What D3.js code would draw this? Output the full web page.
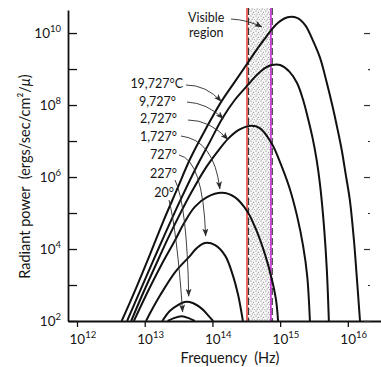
<!DOCTYPE html>
<html>
<head>
<meta charset="utf-8">
<script src="https://cdn.jsdelivr.net/npm/d3@7"></script>
<style>
  body { margin: 0; background: #fff; }
  svg text { font-family: Lato, "Open Sans", sans-serif; fill: #161616; }
</style>
</head>
<body>
<script>
// curves, each point is [log10 Hz, log10 power]
const c19727 = [[12.66,2.0],[12.86,2.86],[13.08,3.86],[13.27,4.75],[13.48,5.67],[13.67,6.5],[13.9,7.33],[14.12,8.06],[14.34,8.67],[14.51,9.14],[14.67,9.58],[14.78,9.86],[14.88,10.11],[15.0,10.33],[15.11,10.44],[15.25,10.42],[15.37,10.22],[15.48,9.81],[15.59,9.31],[15.68,8.69],[15.78,7.92],[15.85,7.31],[15.91,6.75],[15.97,6.06],[16.03,5.36],[16.09,4.25],[16.13,3.28],[16.18,2.0]];
const c9727 = [[12.74,2.0],[12.93,2.83],[13.11,3.61],[13.3,4.42],[13.52,5.33],[13.74,6.19],[13.96,6.97],[14.15,7.64],[14.33,8.14],[14.51,8.53],[14.67,8.86],[14.78,9.03],[14.88,9.11],[15.0,9.11],[15.14,8.92],[15.25,8.61],[15.34,8.14],[15.41,7.64],[15.48,7.08],[15.54,6.47],[15.59,5.78],[15.65,4.58],[15.69,3.42],[15.72,2.0]];
const c2727 = [[12.8,2.0],[12.97,2.75],[13.15,3.5],[13.34,4.28],[13.52,4.97],[13.7,5.61],[13.89,6.22],[14.07,6.69],[14.23,7.06],[14.39,7.31],[14.55,7.42],[14.7,7.36],[14.88,6.92],[15.01,6.36],[15.14,5.69],[15.25,4.92],[15.34,4.08],[15.4,3.25],[15.44,2.0]];
const c1727 = [[12.84,2.0],[13.0,2.64],[13.23,3.5],[13.45,4.25],[13.59,4.75],[13.74,5.17],[13.92,5.44],[14.14,5.56],[14.33,5.44],[14.52,5.03],[14.66,4.47],[14.78,3.83],[14.88,3.14],[14.94,2.58],[14.97,2.0]];
const c727 = [[13.02,2.0],[13.08,2.22],[13.23,2.72],[13.45,3.36],[13.67,3.81],[13.77,4.03],[13.89,4.17],[14.04,4.11],[14.19,3.81],[14.3,3.28],[14.38,2.72],[14.45,2.0]];
const c227 = [[13.26,2.0],[13.37,2.28],[13.49,2.44],[13.59,2.53],[13.71,2.5],[13.85,2.33],[13.93,2.17],[14.01,2.0]];
const c20 = [[13.34,2.0],[13.43,2.08],[13.55,2.13],[13.65,2.08],[13.74,2.0]];

const curves = [c19727, c9727, c2727, c1727, c727, c227, c20];
const tempLabels = ['19,727°C', '9,727°', '2,727°', '1,727°', '727°', '227°', '20°'];
// where each label's arrow lands, [log10 Hz, log10 power]
const arrowTargets = [[14.13,8.1],[14.16,7.62],[14.23,7.04],[14.11,5.67],[13.90,4.36],[13.65,2.69],[13.56,2.25]];

const visibleBand = [3.24e14, 7.3e14];
const xTicks = [1e12, 1e13, 1e14, 1e15, 1e16];
const yTicks = [1e2, 1e3, 1e4, 1e5, 1e6, 1e7, 1e8, 1e9, 1e10];

const width = 381, height = 367;
const margin = {top: 10, right: 0, bottom: 46, left: 68};
const plotBottom = height - margin.bottom;

const svg = d3.select('body').append('svg').attr('width', width).attr('height', height);

const x = d3.scaleLog().domain([10 ** 11.867, 10 ** 16.49]).range([margin.left, width - margin.right]);
const y = d3.scaleLog().domain([1e2, 10 ** 10.64]).range([plotBottom, margin.top]);

const defs = svg.append('defs');
const pat = defs.append('pattern').attr('id', 'dots')
  .attr('width', 5).attr('height', 5).attr('patternUnits', 'userSpaceOnUse');
pat.append('rect').attr('width', 5).attr('height', 5).attr('fill', '#f7f7f7');
[[1, 1, 0.55], [3.6, 2.2, 0.5], [2.2, 4, 0.55], [4.4, 4.5, 0.4]].forEach(([cx, cy, r]) => {
  pat.append('circle').attr('cx', cx).attr('cy', cy).attr('r', r).attr('fill', '#666');
});

defs.append('marker').attr('id', 'arr')
  .attr('viewBox', '0 0 8 6').attr('refX', 7.5).attr('refY', 3)
  .attr('markerWidth', 8).attr('markerHeight', 6)
  .attr('markerUnits', 'userSpaceOnUse').attr('orient', 'auto')
  .append('path').attr('d', 'M0,0 L8,3 L0,6 L2,3 Z').attr('fill', '#2a2a2a');

defs.append('clipPath').attr('id', 'plot')
  .append('rect').attr('x', margin.left).attr('y', 0)
  .attr('width', width - margin.left).attr('height', plotBottom);

// visible band
const bandTop = 8;
svg.append('rect')
  .attr('x', x(visibleBand[0])).attr('y', bandTop)
  .attr('width', x(visibleBand[1]) - x(visibleBand[0]))
  .attr('height', plotBottom - bandTop)
  .attr('fill', 'url(#dots)');

svg.append('line')
  .attr('x1', x(visibleBand[0])).attr('x2', x(visibleBand[0]))
  .attr('y1', bandTop).attr('y2', plotBottom)
  .attr('stroke', '#e4483f').attr('stroke-width', 1.6);
svg.append('line')
  .attr('x1', x(visibleBand[0]) + 1.6).attr('x2', x(visibleBand[0]) + 1.6)
  .attr('y1', bandTop).attr('y2', plotBottom)
  .attr('stroke', '#222').attr('stroke-width', 1).attr('stroke-dasharray', '7,3');
svg.append('line')
  .attr('x1', x(visibleBand[1])).attr('x2', x(visibleBand[1]))
  .attr('y1', bandTop).attr('y2', plotBottom)
  .attr('stroke', '#cc3fd8').attr('stroke-width', 1.8);
svg.append('line')
  .attr('x1', x(visibleBand[1]) + 1.4).attr('x2', x(visibleBand[1]) + 1.4)
  .attr('y1', bandTop).attr('y2', plotBottom)
  .attr('stroke', '#222').attr('stroke-width', 1).attr('stroke-dasharray', '7,3');

// curves
const line = d3.line()
  .x(d => x(10 ** d[0]))
  .y(d => y(10 ** d[1]))
  .curve(d3.curveCatmullRom.alpha(0.5));

svg.append('g').attr('clip-path', 'url(#plot)')
  .selectAll('path')
  .data(curves)
  .join('path')
  .attr('d', line)
  .attr('fill', 'none')
  .attr('stroke', '#111')
  .attr('stroke-width', 2);

// axes
const yAxis = svg.append('g')
  .attr('transform', `translate(${margin.left},0)`)
  .call(d3.axisLeft(y).tickValues(yTicks).tickSizeInner(-9).tickSizeOuter(0).tickFormat(''));
yAxis.select('.domain').attr('stroke', '#111').attr('stroke-width', 1.8);
yAxis.selectAll('.tick line').attr('stroke', '#111').attr('stroke-width', 1.3);

const xAxis = svg.append('g')
  .attr('transform', `translate(0,${plotBottom})`)
  .call(d3.axisBottom(x).tickValues(xTicks).tickSizeInner(6).tickSizeOuter(0).tickFormat(''));
xAxis.select('.domain').attr('stroke', '#111').attr('stroke-width', 1.8);
xAxis.selectAll('.tick line').attr('stroke', '#111').attr('stroke-width', 1.3);

// right side tick dashes
const rightEven = yTicks.filter((d, i) => i % 2 === 0);
const rightOdd = yTicks.filter((d, i) => i % 2 === 1);
[[rightEven, 6], [rightOdd, 2]].forEach(([vals, size]) => {
  const g = svg.append('g')
    .attr('transform', `translate(${width - 11},0)`)
    .call(d3.axisLeft(y).tickValues(vals).tickSizeInner(size).tickSizeOuter(0).tickFormat(''));
  g.select('.domain').remove();
  g.selectAll('.tick line').attr('stroke', '#333').attr('stroke-width', 1.2);
});

// tick labels with superscripts
const yLab = svg.append('g');
yTicks.filter(d => Math.round(Math.log10(d)) % 2 === 0).forEach(d => {
  const t = yLab.append('text')
    .attr('x', margin.left - 7).attr('y', y(d) + 4.5)
    .attr('text-anchor', 'end').attr('font-size', 13.5);
  t.append('tspan').text('10');
  t.append('tspan').attr('dy', -5.5).attr('font-size', 9.5).text(Math.round(Math.log10(d)));
});

const xLab = svg.append('g');
xTicks.forEach(d => {
  const t = xLab.append('text')
    .attr('x', x(d) - 7.5).attr('y', plotBottom + 23)
    .attr('font-size', 13.5);
  t.append('tspan').text('10');
  t.append('tspan').attr('dy', -6).attr('font-size', 9.5).text(Math.round(Math.log10(d)));
});

// axis titles
svg.append('text')
  .attr('transform', `translate(30,${(margin.top + plotBottom) / 2 + 11}) rotate(-90)`)
  .attr('text-anchor', 'middle')
  .attr('font-size', 14.5)
  .style('white-space', 'pre')
  .html('Radiant power  (ergs/sec/cm²/<tspan font-style="italic">μ</tspan>)');

svg.append('text')
  .attr('x', 230).attr('y', height - 4)
  .attr('text-anchor', 'middle')
  .attr('font-size', 14.5)
  .style('white-space', 'pre')
  .text('Frequency  (Hz)');

// temperature labels and arrows
const labelPos = [[183, 88], [176, 106], [177, 123], [177, 141], [177, 159], [177, 178], [174, 197]];
const arrowStart = [[186, 85], [187, 102], [188, 120], [181, 136], [179, 155], [175, 180], [169, 200]];
const arrowCtrl = [[206, 85], [207, 103], [210, 120], [214, 140], [203, 160], [187, 205], [177, 232]];

svg.append('g').selectAll('text')
  .data(tempLabels)
  .join('text')
  .attr('x', (d, i) => labelPos[i][0])
  .attr('y', (d, i) => labelPos[i][1])
  .attr('text-anchor', 'end')
  .attr('font-size', 12.5)
  .text(d => d);

svg.append('g').selectAll('path')
  .data(arrowTargets)
  .join('path')
  .attr('d', (d, i) => {
    const [sx, sy] = arrowStart[i];
    const [cx, cy] = arrowCtrl[i];
    return `M${sx},${sy} Q${cx},${cy} ${x(10 ** d[0])},${y(10 ** d[1])}`;
  })
  .attr('fill', 'none')
  .attr('stroke', '#2a2a2a')
  .attr('stroke-width', 0.9)
  .attr('marker-end', 'url(#arr)');

// visible region note
svg.append('text').attr('x', 188).attr('y', 22).attr('font-size', 12.5).text('Visible');
svg.append('text').attr('x', 189).attr('y', 37).attr('font-size', 12.5).text('region');
svg.append('path')
  .attr('d', `M231,19 Q248,20 ${x(visibleBand[0]) + 15},27`)
  .attr('fill', 'none').attr('stroke', '#2a2a2a').attr('stroke-width', 0.9)
  .attr('marker-end', 'url(#arr)');
</script>
</body>
</html>
